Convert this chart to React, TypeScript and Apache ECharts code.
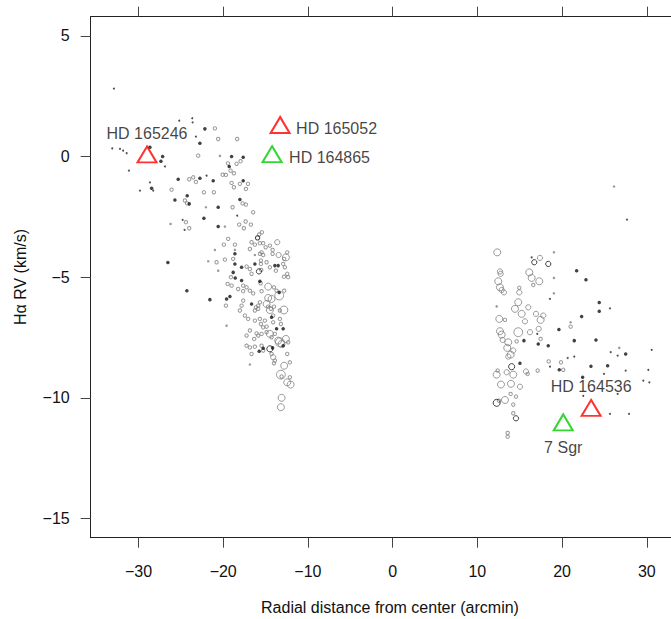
import React, { useEffect, useRef } from "react";
import * as echarts from "echarts";

// ---- data (x: radial distance arcmin, y: Hα RV km/s, s: size class) ----
const grayStars: [number, number, number][] = [
  [-20.98, 1.17, 1], [-20.59, 0.73, 1], [-18.35, 0.73, 1], [-22.95, 0.04, 1], [-20.39, 0.03, 0.5],
  [-17.95, -0.19, 1], [-18.42, -0.3, 1], [-19.44, -0.28, 1], [-19.13, -0.58, 1], [-19.68, -0.76, 1],
  [-20.07, -0.75, 1], [-18.74, -0.69, 1], [-24.01, -0.94, 1], [-23.54, -0.86, 1], [-23.22, -1.05, 1],
  [-18.03, -1.13, 1], [-17.08, -1.13, 1], [-17.32, -1.34, 1], [-19.01, -1.09, 1], [-18.74, -1.27, 1],
  [-26.09, -1.37, 1], [-24.52, -1.82, 1], [-24.25, -1.94, 1], [-22.28, -1.48, 1], [-21.1, -1.48, 1],
  [-22.04, -2.1, 0.5], [-18.89, -2.1, 1], [-17.71, -1.94, 1], [-17.32, -1.99, 1], [-16.46, -2.31, 1],
  [-24.4, -2.72, 1], [-26.21, -2.79, 0.5], [-19.8, -2.9, 0.5], [-18.11, -2.82, 1], [-17.56, -2.97, 1],
  [-17.35, -2.69, 1], [-16.73, -2.82, 1], [-24.01, -2.97, 1], [-19.41, -3.41, 1], [-15.75, -3.23, 1],
  [-15.43, -3.14, 1], [-19.92, -3.65, 1], [-18.62, -3.65, 1], [-16.65, -3.55, 1], [-16.26, -3.65, 1],
  [-15.67, -3.59, 1], [-15.28, -3.59, 1], [-14.49, -3.69, 1], [-13.62, -3.55, 2], [-20.98, -3.87, 0.5],
  [-18.62, -3.87, 0.5], [-16.85, -3.83, 1], [-14.99, -3.76, 1], [-15.47, -3.97, 1], [-15.67, -4.03, 1],
  [-15.28, -4.08, 1], [-14.17, -3.87, 1], [-14.17, -4.03, 1], [-13.46, -4.08, 2], [-12.44, -3.97, 1],
  [-12.6, -4.18, 3], [-12.8, -4.24, 1], [-16.26, -4.08, 0.5], [-18.82, -4.24, 1], [-21.77, -4.34, 0.5],
  [-20.78, -4.38, 1], [-19.8, -4.27, 1], [-17.24, -4.56, 1], [-16.85, -4.66, 1], [-15.55, -4.31, 1],
  [-15.55, -4.45, 1], [-14.88, -4.38, 1], [-14.49, -4.59, 1], [-13.78, -4.73, 1], [-12.92, -4.45, 1],
  [-12.72, -4.59, 1], [-12.44, -4.86, 1], [-12.83, -4.98, 1], [-12.33, -5.0, 1], [-15.51, -4.7, 1],
  [-16.65, -4.86, 1], [-20.59, -4.73, 0.5], [-19.09, -5.0, 1], [-15.58, -5.25, 1], [-14.69, -5.39, 3],
  [-14.01, -5.42, 1], [-13.7, -5.56, 1], [-12.8, -5.56, 1], [-19.48, -5.28, 1], [-19.01, -5.35, 1],
  [-17.64, -5.35, 1], [-17.24, -5.42, 1], [-18.23, -5.49, 1], [-17.64, -5.58, 1], [-16.85, -5.56, 1],
  [-16.46, -5.67, 1], [-15.47, -5.58, 1], [-13.39, -5.76, 4], [-14.69, -5.86, 3], [-14.29, -5.9, 3],
  [-19.68, -6.18, 1], [-17.64, -5.97, 1], [-17.83, -6.18, 1], [-16.14, -6.25, 1], [-15.87, -6.18, 1],
  [-15.67, -6.04, 1], [-16.26, -6.38, 1], [-15.87, -6.31, 1], [-14.88, -6.11, 3], [-14.69, -6.22, 1],
  [-14.49, -6.36, 3], [-14.01, -6.22, 1], [-14.37, -6.31, 1], [-12.83, -6.36, 3.5], [-13.31, -6.38, 1],
  [-18.03, -6.38, 1], [-17.44, -6.59, 1], [-17.05, -6.73, 1], [-19.6, -7.01, 0.5], [-16.26, -6.8, 1],
  [-15.67, -6.73, 1], [-15.55, -6.94, 1], [-15.08, -6.8, 1], [-15.28, -7.08, 1], [-14.88, -7.05, 1],
  [-14.1, -6.59, 1], [-14.1, -6.87, 1], [-13.31, -6.73, 1], [-13.19, -6.94, 1], [-14.88, -7.28, 1],
  [-15.47, -7.35, 1], [-16.06, -7.33, 1], [-14.49, -7.35, 3], [-14.29, -7.49, 1], [-13.9, -7.35, 1],
  [-16.85, -7.21, 1], [-17.24, -7.42, 1], [-16.34, -7.56, 1], [-15.87, -7.42, 1], [-13.51, -7.63, 3],
  [-13.31, -7.7, 4], [-13.11, -7.77, 3], [-12.6, -7.56, 3], [-12.33, -7.7, 1], [-17.24, -7.84, 1],
  [-16.85, -7.91, 1], [-16.26, -7.88, 1], [-15.47, -7.84, 1], [-15.28, -8.04, 1], [-16.65, -8.18, 1],
  [-14.29, -8.18, 1], [-14.1, -8.32, 2], [-12.44, -8.18, 1], [-13.9, -8.46, 1], [-14.01, -8.57, 1],
  [-12.13, -8.53, 1], [-16.85, -8.62, 0.5], [-12.8, -8.67, 3], [-13.19, -9.04, 4], [-13.11, -9.12, 1],
  [-12.13, -9.15, 1], [-12.44, -9.36, 3], [-12.04, -9.45, 3], [-13.11, -10.0, 3], [-13.19, -10.39, 3],
  [12.35, -3.97, 3], [17.39, -4.2, 2], [19.04, -3.97, 0.5], [12.67, -4.76, 2], [12.75, -4.86, 2],
  [16.13, -4.8, 3], [16.41, -5.03, 3], [17.31, -5.17, 3], [16.6, -5.32, 1], [19.04, -5.03, 0.5],
  [12.47, -5.17, 3], [12.67, -5.42, 3], [12.87, -5.53, 2], [13.14, -5.63, 2], [14.95, -5.44, 1],
  [14.95, -5.63, 2], [19.04, -5.67, 0.5], [14.83, -6.04, 3], [14.44, -6.31, 3], [16.01, -6.25, 2],
  [15.23, -6.52, 3], [16.92, -6.52, 2], [17.78, -6.59, 2], [17.47, -6.77, 3], [15.62, -6.83, 2],
  [13.26, -6.77, 1], [12.59, -6.73, 3], [12.28, -6.21, 0.5], [21.01, -6.87, 0.5], [21.01, -7.05, 1],
  [12.67, -7.24, 3], [12.87, -7.38, 3], [12.99, -7.6, 2], [14.83, -7.28, 4], [16.21, -7.28, 2],
  [17.24, -7.14, 2], [17.47, -7.56, 1], [14.64, -7.66, 1], [13.65, -7.7, 3], [13.53, -7.93, 3],
  [14.24, -8.04, 2], [13.93, -8.21, 3], [13.65, -8.29, 2], [26.75, -7.93, 0.5], [18.42, -8.49, 1],
  [19.87, -8.53, 1], [20.14, -8.84, 1], [12.4, -8.87, 1], [12.28, -9.04, 3], [13.46, -8.94, 2],
  [14.24, -9.04, 3], [15.74, -8.91, 2], [15.94, -9.01, 1], [17.12, -8.87, 1], [12.79, -9.45, 3],
  [13.97, -9.42, 3], [15.03, -9.54, 2], [13.93, -9.84, 1], [14.56, -9.95, 1], [13.26, -10.09, 3],
  [12.55, -10.12, 1], [14.24, -10.28, 1], [14.24, -10.64, 1], [13.58, -11.46, 1], [13.58, -11.61, 1],
  [26.13, -1.24, 0.5],
];

const blackRings: [number, number, number][] = [
  [-15.78, -4.76, 2], [-15.94, -3.37, 1.5], [-14.49, -7.97, 2.5],
  [16.72, -4.38, 2], [18.37, -4.45, 2], [14.05, -8.71, 2.5], [12.28, -10.21, 3], [14.56, -10.85, 2],
];

const blackStars: [number, number][] = [
  [-22.16, 1.15], [-22.75, 0.55], [-28.65, 0.39], [-27.15, 0], [-27.35, -0.19], [-19.01, 0],
  [-17.64, -0.03], [-19.29, -0.41], [-25.31, -0.94], [-22.75, -0.9], [-21.18, -1.0], [-17.64, -1.0],
  [-28.45, -1.31], [-24.25, -1.62], [-24.01, -1.96], [-25.7, -1.8], [-20.59, -2.1], [-18.03, -1.78],
  [-22.28, -2.56], [-20.59, -2.9], [-18.62, -4.03], [-18.62, -4.45], [-17.83, -4.59], [-16.26, -4.45],
  [-13.9, -4.52], [-13.51, -4.52], [-18.82, -4.8], [-18.58, -5.03], [-17.83, -5.14], [-15.67, -5.17],
  [-13.39, -5.63], [-21.57, -5.93], [-19.6, -5.9], [-19.21, -5.8], [-16.65, -6.11], [-14.29, -6.66],
  [-12.92, -7.14], [-13.7, -7.14], [-12.92, -7.84], [-15.28, -7.95], [-14.17, -7.93], [-15.75, -8.07],
  [-26.53, -4.39], [-24.29, -5.56],
  [21.72, -4.73], [22.82, -5.11], [24.39, -6.05], [24.39, -6.41], [22.31, -6.63], [19.63, -7.17],
  [15.5, -7.63], [17.19, -7.77], [18.37, -7.84], [21.44, -7.63], [24.0, -7.6], [27.51, -8.18],
  [15.03, -8.57], [23.41, -8.69], [25.38, -8.67], [19.67, -8.84], [22.43, -9.15],
];

const faintStars: [number, number][] = [
  [-32.9, 2.82], [-25.19, 1.49], [-23.66, 1.59], [-23.61, 1.42], [-23.22, 0.83], [-33.1, 0.34],
  [-32.19, 0.32], [-31.81, 0.25], [-31.4, 0.14], [-26.88, -0.41], [-31.13, -0.58], [-21.96, -0.79],
  [-28.65, -1.07], [-28.26, -1.41], [-29.83, -1.41], [-18.35, -2.45], [-24.79, -2.62], [-24.56, -3.04],
  [16.41, -4.18], [18.57, -5.9], [25.65, -6.29], [17.07, -7.35], [25.74, -8.11], [26.56, -8.25],
  [30.58, -8.01], [20.66, -8.35], [21.44, -8.29], [18.57, -8.71], [27.51, -8.87], [30.18, -8.84],
  [24.95, -9.01], [29.59, -9.29], [30.3, -9.36], [22.5, -9.92], [26.56, -9.84], [25.65, -10.67],
  [27.9, -10.67], [27.66, -2.61],
];

const redNames = ["HD 165246", "HD 165052", "HD 164536"];
const redX = [-28.99, -13.28, 23.43];
const redY = [0.09, 1.31, -10.42];
const greenNames = ["HD 164865", "7 Sgr"];
const greenX = [-14.23, 20.14];
const greenY = [0.1, -11.02];

const xTicks = [-30, -20, -10, 0, 10, 20, 30];
const yTicks = [-15, -10, -5, 0, 5];

const FONT = "'Liberation Sans', Arial, Helvetica, sans-serif";

const labelStyle: Record<string, any> = {
  "HD 165246": { align: "center", offset: [0, -21] },
  "HD 165052": { align: "left", offset: [16, 3.5] },
  "HD 164536": { align: "center", offset: [0, -21] },
  "HD 164865": { align: "left", offset: [17, 3] },
  "7 Sgr": { align: "center", offset: [0, 25] },
};

function triData(names: string[], xs: number[], ys: number[]) {
  return names.map((n, i) => ({
    name: n,
    value: [xs[i], ys[i]],
    label: {
      show: true,
      formatter: n,
      position: "inside",
      align: labelStyle[n].align,
      verticalAlign: "middle",
      offset: labelStyle[n].offset,
      color: "#111",
      fontSize: 16,
      fontFamily: FONT,
    },
  }));
}

const minus = (v: number) => String(v).replace("-", "\u2212");

const X_MIN = -35.64;
const X_MAX = 32.86;
const Y_MIN = -15.8;
const Y_MAX = 5.8;

export default function App() {
  const ref = useRef<HTMLDivElement>(null);
  useEffect(() => {
    if (!ref.current) return;
    const chart = echarts.init(ref.current, null, { renderer: "svg" });
    chart.setOption({
      animation: false,
      backgroundColor: "#ffffff",
      grid: { left: 90.7, right: 0, top: 16.7, bottom: 81.3, outerBoundsMode: "none", containLabel: false },
      xAxis: [
        {
          type: "value",
          min: X_MIN,
          max: X_MAX,
          axisLine: { show: true, onZero: false, lineStyle: { color: "#222", width: 1 } },
          splitLine: { show: false },
          axisTick: { show: true, inside: false, length: 10, customValues: xTicks, lineStyle: { color: "#444" } },
          axisLabel: {
            show: true,
            customValues: xTicks,
            formatter: minus,
            fontSize: 16,
            color: "#111",
            fontFamily: FONT,
            margin: 26,
          },
        },
        {
          type: "value",
          position: "top",
          min: X_MIN,
          max: X_MAX,
          axisLine: { show: true, onZero: false, lineStyle: { color: "#222", width: 1 } },
          splitLine: { show: false },
          axisTick: { show: true, inside: false, length: 10, customValues: xTicks, lineStyle: { color: "#444" } },
          axisLabel: { show: true, customValues: xTicks, formatter: () => "" },
        },
      ],
      yAxis: {
        type: "value",
        min: Y_MIN,
        max: Y_MAX,
        axisLine: { show: true, onZero: false, lineStyle: { color: "#222", width: 1 } },
        splitLine: { show: false },
        axisTick: { show: true, inside: false, length: 10, customValues: yTicks, lineStyle: { color: "#444" } },
        axisLabel: {
          show: true,
          customValues: yTicks,
          formatter: minus,
          fontSize: 16,
          color: "#111",
          fontFamily: FONT,
          margin: 21,
        },
      },
      graphic: [
        {
          type: "text",
          x: 390,
          y: 607,
          style: {
            text: "Radial distance from center (arcmin)",
            fill: "#111",
            font: `16px ${FONT}`,
            textAlign: "center",
            textVerticalAlign: "middle",
          },
        },
        {
          type: "text",
          x: 20,
          y: 277,
          rotation: Math.PI / 2,
          style: {
            text: "H\u03b1 RV (km/s)",
            fill: "#111",
            font: `16px ${FONT}`,
            textAlign: "center",
            textVerticalAlign: "middle",
          },
        },
      ],
      series: [
        {
          type: "scatter",
          silent: true,
          data: grayStars.map(([x, y, s]) => ({
            value: [x, y, s],
            symbolSize: s <= 0.5 ? 2.5 : 1.6 + 1.8 * s,
            itemStyle:
              s <= 0.5
                ? { color: "#808080", borderWidth: 0 }
                : { color: "rgba(255,255,255,0)", borderColor: "#808080", borderWidth: 1 },
          })),
        },
        {
          type: "scatter",
          silent: true,
          data: blackRings.map(([x, y, s]) => ({ value: [x, y, s], symbolSize: 1.6 + 1.8 * s })),
          itemStyle: { color: "rgba(255,255,255,0)", borderColor: "#111", borderWidth: 1 },
        },
        {
          type: "scatter",
          silent: true,
          data: blackStars,
          symbolSize: 3.5,
          itemStyle: { color: "#111" },
        },
        {
          type: "scatter",
          silent: true,
          data: faintStars,
          symbolSize: 2,
          itemStyle: { color: "#222" },
        },
        {
          type: "scatter",
          silent: true,
          symbol: "triangle",
          symbolSize: [19, 16],
          data: triData(redNames, redX, redY),
          itemStyle: { color: "rgba(255,255,255,0)", borderColor: "#ff0000", borderWidth: 2 },
          z: 5,
        },
        {
          type: "scatter",
          silent: true,
          symbol: "triangle",
          symbolSize: [19, 16],
          data: triData(greenNames, greenX, greenY),
          itemStyle: { color: "rgba(255,255,255,0)", borderColor: "#00cc00", borderWidth: 2 },
          z: 5,
        },
      ],
    });
    return () => chart.dispose();
  }, []);
  return (
    <div style={{ position: "fixed", left: 0, top: 0, width: 671, height: 619, background: "#fff" }}>
      <div ref={ref} style={{ width: 671, height: 619 }} />
    </div>
  );
}
